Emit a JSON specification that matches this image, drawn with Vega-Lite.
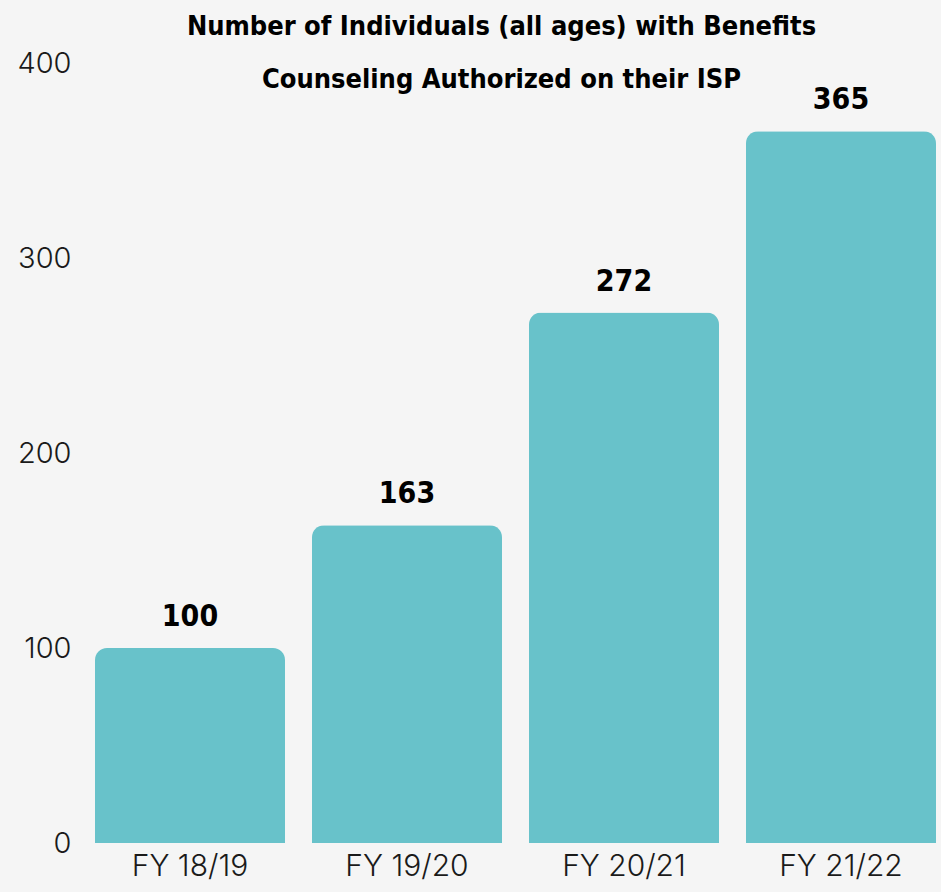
{
  "$schema": "https://vega.github.io/schema/vega-lite/v6.json",
  "autosize": "none",
  "width": 841,
  "height": 780,
  "padding": {"left": 95, "top": 63, "right": 5, "bottom": 49},
  "background": "#f5f5f5",
  "title": {
    "text": ["Number of Individuals (all ages) with Benefits", "Counseling Authorized on their ISP"],
    "font": "DejaVu Sans Condensed",
    "fontWeight": "bold",
    "fontSize": 27,
    "lineHeight": 53,
    "color": "#000000",
    "anchor": "middle",
    "frame": "group",
    "offset": -45,
    "dx": -14
  },
  "data": {
    "values": [
      {"year": "FY 18/19", "count": 100},
      {"year": "FY 19/20", "count": 163},
      {"year": "FY 20/21", "count": 272},
      {"year": "FY 21/22", "count": 365}
    ]
  },
  "encoding": {
    "x": {
      "field": "year",
      "type": "nominal",
      "sort": null,
      "scale": {"paddingInner": 0.1244, "paddingOuter": 0},
      "axis": {
        "title": null,
        "labelAngle": 0,
        "domain": false,
        "ticks": false,
        "labelFont": "Inter",
        "labelFontWeight": 300,
        "labelFontSize": 30,
        "labelColor": "#1a1a1a",
        "labelPadding": 8
      }
    },
    "y": {
      "field": "count",
      "type": "quantitative",
      "scale": {"domain": [0, 400]},
      "axis": {
        "title": null,
        "values": [0, 100, 200, 300, 400],
        "grid": false,
        "domain": false,
        "ticks": false,
        "labelFont": "Inter",
        "labelFontWeight": 300,
        "labelFontSize": 29,
        "labelColor": "#1a1a1a",
        "labelPadding": 24
      }
    }
  },
  "layer": [
    {
      "mark": {"type": "bar", "color": "#68c2ca", "cornerRadiusTopLeft": 12, "cornerRadiusTopRight": 12}
    },
    {
      "mark": {"type": "text", "baseline": "alphabetic", "dy": -22, "font": "DejaVu Sans Condensed", "fontWeight": "bold", "fontSize": 30, "color": "#000000"},
      "encoding": {"text": {"field": "count", "type": "quantitative"}}
    }
  ],
  "config": {"view": {"stroke": null}}
}
